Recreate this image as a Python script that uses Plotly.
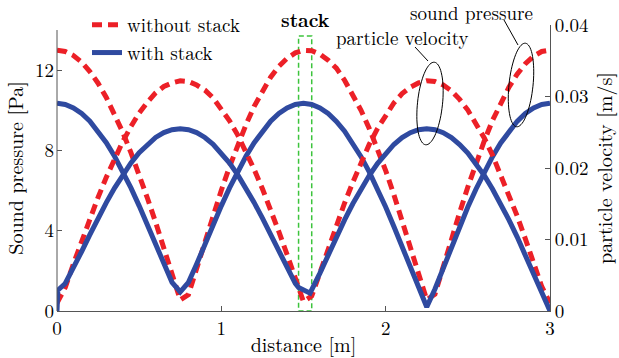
import numpy as np
import plotly.graph_objects as go

# ---------------- data ----------------
distance = [0.00, 0.05, 0.10, 0.15, 0.20, 0.25, 0.30, 0.35, 0.40, 0.45,
            0.50, 0.55, 0.60, 0.65, 0.70, 0.75, 0.80, 0.85, 0.90, 0.95,
            1.00, 1.05, 1.10, 1.15, 1.20, 1.25, 1.30, 1.35, 1.40, 1.45,
            1.50, 1.55, 1.60, 1.65, 1.70, 1.75, 1.80, 1.85, 1.90, 1.95,
            2.00, 2.05, 2.10, 2.15, 2.20, 2.25, 2.30, 2.35, 2.40, 2.45,
            2.50, 2.55, 2.60, 2.65, 2.70, 2.75, 2.80, 2.85, 2.90, 2.95,
            3.00]

# sound pressure without stack [Pa]
pressure_without = [13.0, 12.93, 12.73, 12.4, 11.93, 11.35, 10.64, 9.83, 8.91, 7.89,
                    6.8, 5.63, 4.42, 3.15, 1.85, 0.55, 0.82, 2.17, 3.5, 4.79,
                    6.02, 7.19, 8.29, 9.28, 10.2, 10.98, 11.65, 12.19, 12.59, 12.86,
                    12.99, 12.97, 12.8, 12.5, 12.1, 11.5, 10.8, 10.0, 9.1, 8.1,
                    7.0, 5.8, 4.5, 3.24, 1.9, 0.55, 0.84, 2.23, 3.59, 4.9,
                    6.18, 7.37, 8.47, 9.49, 10.38, 11.15, 11.8, 12.32, 12.7, 12.93,
                    13.0]

# particle velocity without stack [m/s]
velocity_without = [0.0011, 0.0033, 0.0066, 0.0098, 0.0129, 0.0159, 0.0187, 0.0213, 0.0237, 0.0258,
                    0.0277, 0.0292, 0.0305, 0.0314, 0.0319, 0.0322, 0.0321, 0.0316, 0.0309, 0.0298,
                    0.0283, 0.0266, 0.0246, 0.0223, 0.0198, 0.0171, 0.0142, 0.0111, 0.0079, 0.0046,
                    0.0013, 0.0021, 0.0054, 0.0088, 0.0120, 0.0151, 0.0180, 0.0208, 0.0233, 0.0255,
                    0.0274, 0.0291, 0.0304, 0.0313, 0.0319, 0.0322, 0.0321, 0.0316, 0.0308, 0.0296,
                    0.0281, 0.0263, 0.0242, 0.0218, 0.0191, 0.0163, 0.0133, 0.0101, 0.0068, 0.0034,
                    0.0011]

# sound pressure with stack [Pa]
pressure_with = [10.35, 10.29, 10.12, 9.84, 9.46, 8.97, 8.39, 7.71, 6.96, 6.13,
                 5.24, 4.30, 3.33, 2.34, 1.43, 0.95, 1.43, 2.34, 3.33, 4.30,
                 5.24, 6.13, 6.96, 7.71, 8.39, 8.97, 9.46, 9.84, 10.12, 10.29,
                 10.35, 10.29, 10.12, 9.84, 9.45, 8.96, 8.37, 7.69, 6.93, 6.08,
                 5.18, 4.21, 3.21, 2.16, 1.10, 0.2, 1.10, 2.16, 3.21, 4.21,
                 5.18, 6.08, 6.93, 7.69, 8.37, 8.96, 9.45, 9.84, 10.12, 10.29,
                 10.35]

# particle velocity with stack [m/s] (own sampling: jump at x=0, kink at the stack)
distance_vel_with = [0.00, 0.005, 0.05, 0.10, 0.15, 0.20, 0.25, 0.30, 0.35, 0.40, 0.45,
                     0.50, 0.55, 0.60, 0.65, 0.70, 0.75, 0.80, 0.85, 0.90, 0.95,
                     1.00, 1.05, 1.10, 1.15, 1.20, 1.25, 1.30, 1.35, 1.40, 1.45,
                     1.47, 1.54, 1.60, 1.65, 1.70, 1.75, 1.80, 1.85, 1.90, 1.95,
                     2.00, 2.05, 2.10, 2.15, 2.20, 2.25, 2.30, 2.35, 2.40, 2.45,
                     2.50, 2.55, 2.60, 2.65, 2.70, 2.75, 2.80, 2.85, 2.90, 2.95,
                     3.00]
velocity_with = [0.0, 0.0029, 0.00385, 0.00597, 0.00832, 0.01068, 0.01298, 0.01516, 0.01719, 0.01904, 0.0207,
                 0.02213, 0.02332, 0.02427, 0.02495, 0.02536, 0.0255, 0.02536, 0.02495, 0.02427, 0.02332,
                 0.02213, 0.0207, 0.01904, 0.01719, 0.01516, 0.01298, 0.01068, 0.00832, 0.00597, 0.00385,
                 0.0033, 0.0025, 0.0053, 0.00788, 0.01037, 0.01275, 0.01499, 0.01706, 0.01895, 0.02063,
                 0.02208, 0.02329, 0.02425, 0.02494, 0.02536, 0.0255, 0.02536, 0.02494, 0.02425, 0.02329,
                 0.02208, 0.02063, 0.01895, 0.01706, 0.01499, 0.01275, 0.01037, 0.00788, 0.0053, 0.00266,
                 0.0]

stack_region = [1.47, 1.55]       # x extent of the stack [m]
stack_top = 13.7                  # Pa

x_ticks = [0, 1, 2, 3]
p_ticks = [0, 4, 8, 12]
v_ticks = [0, 0.01, 0.02, 0.03, 0.04]
v_ticktext = ["0", "0.01", "0.02", "0.03", "0.04"]

# ---------------- styling ----------------
W, H = 619, 358
ML, MR, MT, MB = 57, 69, 25, 47
PW, PH = W - ML - MR, H - MT - MB
X_RANGE = [0, 3]
P_RANGE = [0, 14.25]
V_RANGE = [0, 0.04]

RED = "#EC2027"
BLUE = "#2F4AA0"
GREEN = "#3CC43C"
AX = "#555555"
FONT = "Latin Modern Roman"


def px_to_paper(px, py):
    return (px - ML) / PW, (H - MB - py) / PH


def ellipse_path(cx, cy, rx, ry, ang):
    t = np.linspace(0, 2 * np.pi, 73)
    a = np.deg2rad(ang)
    xs = cx + rx * np.cos(t) * np.cos(a) - ry * np.sin(t) * np.sin(a)
    ys = cy + rx * np.cos(t) * np.sin(a) + ry * np.sin(t) * np.cos(a)
    pts = [px_to_paper(x, y) for x, y in zip(xs, ys)]
    return "M " + " L ".join(f"{x:.4f},{y:.4f}" for x, y in pts) + " Z"


fig = go.Figure()

fig.add_trace(go.Scatter(x=distance, y=pressure_without, mode="lines", name="without stack",
                         line=dict(color=RED, width=5, dash="10px,6px")))
fig.add_trace(go.Scatter(x=distance, y=velocity_without, mode="lines", name="without stack",
                         line=dict(color=RED, width=5, dash="10px,6px"), yaxis="y2", showlegend=False))
fig.add_trace(go.Scatter(x=distance, y=pressure_with, mode="lines", name="with stack",
                         line=dict(color=BLUE, width=5)))
fig.add_trace(go.Scatter(x=distance_vel_with, y=velocity_with, mode="lines", name="with stack",
                         line=dict(color=BLUE, width=5), yaxis="y2", showlegend=False))

shapes = [
    # stack outline
    dict(type="rect", xref="x", yref="y", x0=stack_region[0], x1=stack_region[1], y0=0, y1=stack_top,
         line=dict(color=GREEN, width=1.5, dash="5px,3px"), layer="below"),
    # left axis line (0..14)
    dict(type="line", xref="paper", yref="y", x0=0, x1=0, y0=0, y1=14, line=dict(color=AX, width=1)),
]
# ellipses and leader lines
for (cx, cy, rx, ry, ang) in [(430, 103.5, 12.5, 41.5, 6), (521, 85, 12, 42, 6)]:
    shapes.append(dict(type="path", xref="paper", yref="paper", path=ellipse_path(cx, cy, rx, ry, ang),
                       line=dict(color="black", width=1)))
for (x0, y0, x1, y1) in [(415, 47, 428, 61), (504, 20, 518, 45)]:
    p0 = px_to_paper(x0, y0)
    p1 = px_to_paper(x1, y1)
    shapes.append(dict(type="line", xref="paper", yref="paper", x0=p0[0], y0=p0[1], x1=p1[0], y1=p1[1],
                       line=dict(color="black", width=1)))

annotations = [
    dict(text="<b>stack</b>", xref="x", yref="paper", x=sum(stack_region) / 2, y=px_to_paper(0, 19)[1],
         showarrow=False, font=dict(size=19, family=FONT, color="black"), xanchor="center", yanchor="middle"),
    dict(text="particle velocity", xref="paper", yref="paper",
         x=px_to_paper(402.5, 37)[0], y=px_to_paper(402.5, 37)[1],
         showarrow=False, font=dict(size=19, family=FONT, color="black"), xanchor="center", yanchor="middle"),
    dict(text="sound pressure", xref="paper", yref="paper",
         x=px_to_paper(471, 12)[0], y=px_to_paper(471, 12)[1],
         showarrow=False, font=dict(size=19, family=FONT, color="black"), xanchor="center", yanchor="middle"),
]

tickfont = dict(size=19, family=FONT, color="black")
titlefont = dict(size=20, family=FONT, color="black")

fig.update_layout(
    width=W, height=H,
    margin=dict(l=ML, r=MR, t=MT, b=MB, pad=0, autoexpand=False),
    plot_bgcolor="white", paper_bgcolor="white",
    font=dict(family=FONT, color="black"),
    shapes=shapes, annotations=annotations,
    xaxis=dict(range=X_RANGE, tickvals=x_ticks, ticks="inside", ticklen=5, tickcolor=AX,
               showline=True, linecolor=AX, linewidth=1, showgrid=False, zeroline=False,
               tickfont=tickfont, title=dict(text="distance [m]", font=titlefont, standoff=1),
               automargin=False),
    yaxis=dict(range=P_RANGE, tickvals=p_ticks, ticks="inside", ticklen=5, tickcolor=AX,
               showline=False, showgrid=False, zeroline=False, tickfont=tickfont,
               ticklabelstandoff=2,
               title=dict(text="Sound pressure [Pa]", font=titlefont, standoff=6),
               automargin=False),
    yaxis2=dict(range=V_RANGE, tickvals=v_ticks, ticktext=v_ticktext, overlaying="y", side="right",
                ticks="inside", ticklen=5, tickcolor=AX, showline=True, linecolor=AX, linewidth=1,
                showgrid=False, zeroline=False, tickfont=tickfont,
                title=dict(text="particle velocity [m/s]", font=titlefont, standoff=8),
                automargin=False),
    legend=dict(x=px_to_paper(87, 0)[0], y=px_to_paper(0, 6)[1], xanchor="left", yanchor="top",
                bgcolor="rgba(0,0,0,0)", font=dict(size=19, family=FONT, color="black"),
                itemwidth=30, borderwidth=0, tracegroupgap=0),
    showlegend=True,
)

fig.write_html("out.html")
